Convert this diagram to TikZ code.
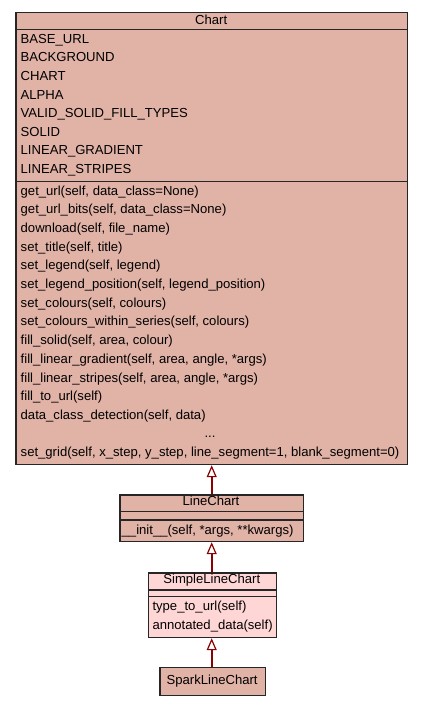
\documentclass[tikz,border=0pt]{standalone}
\usepackage{fontspec}
\setmainfont{Liberation Sans}
\usetikzlibrary{arrows.meta}
\definecolor{boxfill}{RGB}{225,178,166}
\definecolor{boxlight}{RGB}{255,214,214}
\definecolor{inhred}{RGB}{139,0,0}
\tikzset{
  classbox/.style={draw=black!85, line width=1.2pt, rectangle, inner sep=0pt, anchor=north west},
  divider/.style={draw=black!85, line width=1.2pt},
  mtext/.style={anchor=base west, inner sep=0pt, font=\fontsize{13.1}{15}\selectfont},
  ctext/.style={anchor=base, inner sep=0pt, font=\fontsize{13.1}{15}\selectfont},
  inh/.style={draw=inhred, line width=2.4pt, -{Triangle[fill=white, line width=1.2pt, length=12pt, width=10pt]}},
}
\begin{document}
\begin{tikzpicture}[x=1pt,y=-1pt]
\useasboundingbox (0,0) rectangle (421,707);
% Chart
\node[classbox, fill=boxfill, minimum width=391.7pt, minimum height=452pt] (chart) at (15.3,12) {};
\draw[divider] (15.3,29.3) -- (407,29.3);
\draw[divider] (15.3,181.7) -- (407,181.7);
\node[ctext] (chartt) at (211.2,24.5) {Chart};
\foreach \t [count=\i from 0] in {BASE\_URL,BACKGROUND,CHART,ALPHA,VALID\_SOLID\_FILL\_TYPES,SOLID,LINEAR\_GRADIENT,LINEAR\_STRIPES}
  \node[mtext] (a\i) at (20.5,43.3+\i*18.6) {\t};
\foreach \t [count=\i from 0] in {get\_url(self{,} data\_class=None),get\_url\_bits(self{,} data\_class=None),download(self{,} file\_name),set\_title(self{,} title),set\_legend(self{,} legend),set\_legend\_position(self{,} legend\_position),set\_colours(self{,} colours),set\_colours\_within\_series(self{,} colours),fill\_solid(self{,} area{,} colour),fill\_linear\_gradient(self{,} area{,} angle{,} *args),fill\_linear\_stripes(self{,} area{,} angle{,} *args),fill\_to\_url(self),data\_class\_detection(self{,} data)}
  \node[mtext] (m\i) at (20.5,195+\i*18.7) {\t};
\node[ctext] (dots) at (210,437.7) {...};
\node[mtext] (mgrid) at (20.5,456.7) {set\_grid(self, x\_step, y\_step, line\_segment=1, blank\_segment=0)};
% LineChart
\node[classbox, fill=boxfill, minimum width=183.4pt, minimum height=46.7pt] (line) at (119.3,494.3) {};
\draw[divider] (119.3,511.7) -- (302.7,511.7);
\draw[divider] (119.3,520) -- (302.7,520);
\node[ctext] (linet) at (211,505.7) {LineChart};
\node[mtext] (linem) at (121.5,534) {\_\_init\_\_(self, *args, **kwargs)};
% SimpleLineChart
\node[classbox, fill=boxlight, minimum width=128.3pt, minimum height=64.7pt] (simple) at (147.7,572.3) {};
\draw[divider] (147.7,590) -- (276,590);
\draw[divider] (147.7,596.7) -- (276,596.7);
\node[ctext] (simplet) at (211.8,583.3) {SimpleLineChart};
\node[mtext] (s1) at (152.3,610.7) {type\_to\_url(self)};
\node[mtext] (s2) at (152.3,629.3) {annotated\_data(self)};
% SparkLineChart
\node[classbox, fill=boxfill, minimum width=105.7pt, minimum height=28.3pt] (spark) at (159.3,666.7) {};
\node[ctext] (sparkt) at (212.1,684.3) {SparkLineChart};
% inheritance
\draw[inh] (line.north -| 211.7,0) -- (chart.south -| 211.7,0);
\draw[inh] (simple.north -| 211.7,0) -- (line.south -| 211.7,0);
\draw[inh] (spark.north -| 211.7,0) -- (simple.south -| 211.7,0);
\end{tikzpicture}
\end{document}
